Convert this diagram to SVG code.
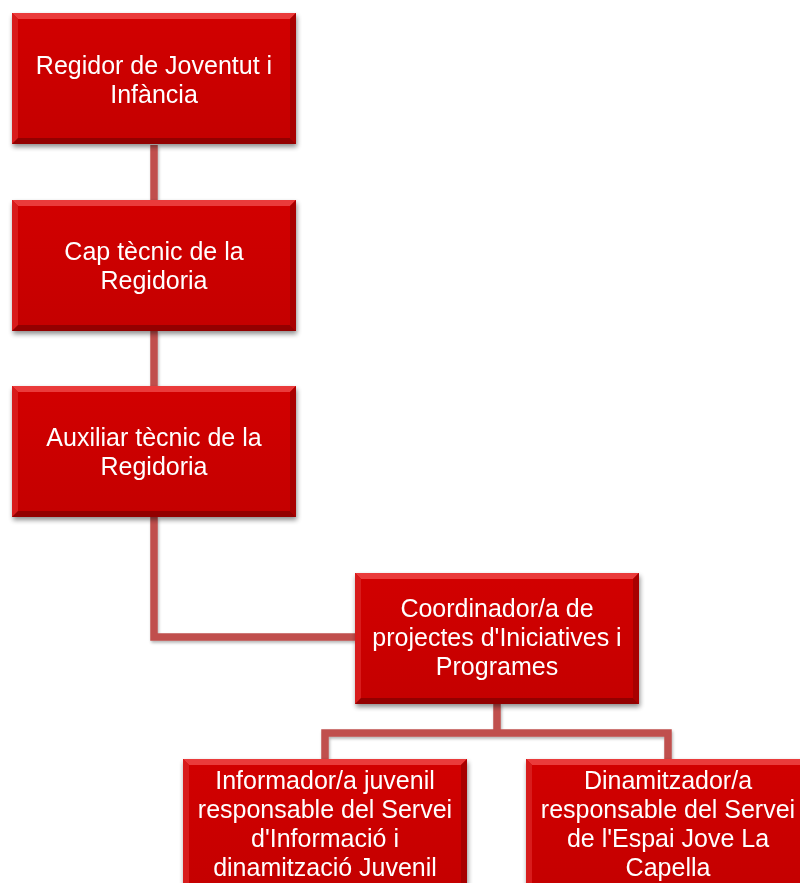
<svg xmlns="http://www.w3.org/2000/svg" width="800" height="883" viewBox="0 0 800 883">
<defs>
<filter id="sh" x="-10%" y="-10%" width="125%" height="130%">
<feGaussianBlur in="SourceAlpha" stdDeviation="2.5"/>
<feOffset dx="1" dy="3" result="b"/>
<feComponentTransfer><feFuncA type="linear" slope="0.45"/></feComponentTransfer>
<feMerge><feMergeNode/><feMergeNode in="SourceGraphic"/></feMerge>
</filter>
<filter id="lsh" x="-20%" y="-20%" width="140%" height="140%">
<feGaussianBlur in="SourceAlpha" stdDeviation="1.5"/>
<feOffset dx="1" dy="2"/>
<feComponentTransfer><feFuncA type="linear" slope="0.3"/></feComponentTransfer>
<feMerge><feMergeNode/><feMergeNode in="SourceGraphic"/></feMerge>
</filter>
<linearGradient id="g" x1="0" y1="0" x2="0" y2="1">
<stop offset="0" stop-color="#d20404"/>
<stop offset="1" stop-color="#c40000"/>
</linearGradient>
<g id="box">
<rect x="0" y="0" width="284" height="131" fill="url(#g)"/>
<polygon points="0,0 284,0 278,6 6,6" fill="#ea3a3a"/>
<polygon points="0,0 6,6 6,125 0,131" fill="#d81c1c"/>
<polygon points="284,0 284,131 278,125 278,6" fill="#a80000"/>
<polygon points="0,131 284,131 278,125 6,125" fill="#930000"/>
</g>
</defs>
<style>
.c{fill:none;stroke:#c0504d;stroke-width:7.5;stroke-linejoin:miter}
.t{font-family:"Liberation Sans",Arial,sans-serif;font-size:25px;fill:#ffffff;text-anchor:middle}
</style>
<rect width="800" height="883" fill="#ffffff"/>
<g id="connectors" filter="url(#lsh)">
<path class="c" d="M154,145 V200"/>
<path class="c" d="M154,331 V386"/>
<path class="c" d="M154,517 V637 H355"/>
<path class="c" d="M497,704 V733 M325,759 V733 H668 V759"/>
</g>
<g id="n1" filter="url(#sh)">
<use href="#box" x="12" y="13"/>
<text class="t" x="154" y="74">Regidor de Joventut i</text>
<text class="t" x="154" y="103">Infància</text>
</g>
<g id="n2" filter="url(#sh)">
<use href="#box" x="12" y="200"/>
<text class="t" x="154" y="260">Cap tècnic de la</text>
<text class="t" x="154" y="289">Regidoria</text>
</g>
<g id="n3" filter="url(#sh)">
<use href="#box" x="12" y="386"/>
<text class="t" x="154" y="446">Auxiliar tècnic de la</text>
<text class="t" x="154" y="475">Regidoria</text>
</g>
<g id="n4" filter="url(#sh)">
<use href="#box" x="355" y="573"/>
<text class="t" x="497" y="617">Coordinador/a de</text>
<text class="t" x="497" y="646">projectes d'Iniciatives i</text>
<text class="t" x="497" y="675">Programes</text>
</g>
<g id="n5" filter="url(#sh)">
<use href="#box" x="183" y="759"/>
<text class="t" x="325" y="789">Informador/a juvenil</text>
<text class="t" x="325" y="818">responsable del Servei</text>
<text class="t" x="325" y="847">d'Informació i</text>
<text class="t" x="325" y="876">dinamització Juvenil</text>
</g>
<g id="n6" filter="url(#sh)">
<use href="#box" x="526" y="759"/>
<text class="t" x="668" y="789">Dinamitzador/a</text>
<text class="t" x="668" y="818">responsable del Servei</text>
<text class="t" x="668" y="847">de l'Espai Jove La</text>
<text class="t" x="668" y="876">Capella</text>
</g>
</svg>
